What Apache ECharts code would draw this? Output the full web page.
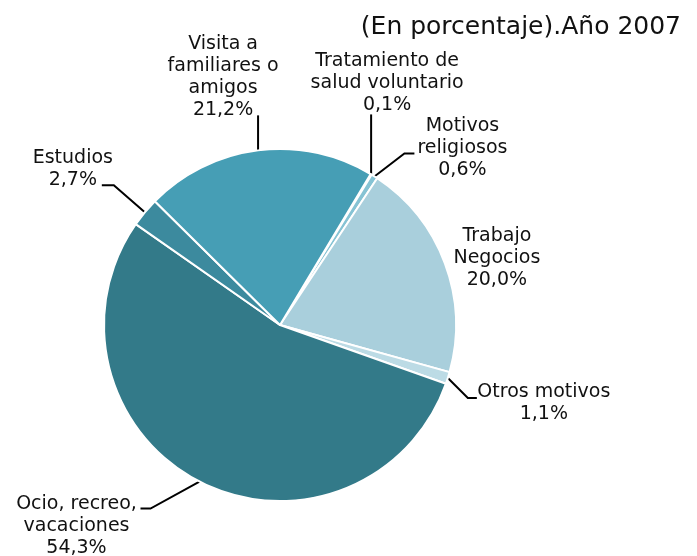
<!DOCTYPE html>
<html>
<head>
<meta charset="UTF-8">
<script src="https://cdn.jsdelivr.net/npm/echarts@6/dist/echarts.min.js"></script>
<style>
    html, body {margin: 0; padding: 0; background: #fff;}
    #chart {width: 697px; height: 556px;}
</style>
</head>
<body>
<div id="chart"></div>
<script type="text/javascript">
    // datos del grafico (orden horario desde "Tratamiento")
    var categorias = ['Tratamiento de\nsalud voluntario', 'Motivos\nreligiosos', 'Trabajo\nNegocios', 'Otros motivos',
        'Ocio, recreo,\nvacaciones', 'Estudios', 'Visita a\nfamiliares o\namigos'];
    var porcentajes = [0.1, 0.6, 20.0, 1.1, 54.3, 2.7, 21.2];
    var titulo = '(En porcentaje).Año 2007';

    var colores = ['#62b2c8', '#86c3d4', '#a9cfdc', '#bcdbe5', '#337a89', '#3c8a9e', '#469eb5'];

    // quiebres de la linea guia y centro del texto, relativos al punto del borde de cada porcion
    var guias = [
        {linea: [[0, -60]], texto: [16, -91]},
        {linea: [[30, -23], [40, -23]], texto: [88, -28]},
        {linea: [], texto: [52, -5]},
        {linea: [[20, 20], [29, 20]], texto: [96, 25]},
        {linea: [[-49, 27], [-59, 27]], texto: [-123, 45]},
        {linea: [[-31, -27], [-43, -27]], texto: [-72, -43]},
        {linea: [[0, -35]], texto: [-35, -73]}
    ];

    var fmtPct = function (v) {
        return v.toFixed(1).replace('.', ',') + '%';
    };

    var myChart = echarts.init(document.getElementById('chart'));

    var datos = categorias.map(function (c, i) {
        return {name: c, value: porcentajes[i], itemStyle: {color: colores[i]}};
    });

    var option = {
        animation: false,
        title: {
            text: titulo,
            right: 11,
            top: 10,
            textStyle: {
                fontFamily: 'DejaVu Sans',
                fontSize: 25,
                fontWeight: 'normal',
                color: '#111'
            }
        },
        series: [
            {
                type: 'pie',
                center: [280, 325],
                radius: 176,
                startAngle: 59,
                clockwise: true,
                avoidLabelOverlap: false,
                data: datos,
                itemStyle: {
                    borderColor: '#fff',
                    borderWidth: 2
                },
                label: {
                    show: true,
                    position: 'outside',
                    alignTo: 'none',
                    fontFamily: 'DejaVu Sans',
                    fontSize: 19,
                    lineHeight: 22,
                    color: '#111',
                    formatter: function (p) {
                        return p.name + '\n' + fmtPct(p.value);
                    }
                },
                labelLine: {
                    show: true,
                    smooth: false,
                    lineStyle: {color: '#000', width: 2}
                },
                labelLayout: function (params) {
                    var g = guias[params.dataIndex];
                    if (!params.labelLinePoints) {
                        return {};
                    }
                    var p0 = params.labelLinePoints[0];
                    var pts = [p0.slice()];
                    g.linea.forEach(function (d) {
                        pts.push([p0[0] + d[0], p0[1] + d[1]]);
                    });
                    if (pts.length < 2) {
                        pts.push(p0.slice());
                    }
                    return {
                        x: p0[0] + g.texto[0],
                        y: p0[1] + g.texto[1],
                        align: 'center',
                        verticalAlign: 'middle',
                        labelLinePoints: pts
                    };
                }
            }
        ]
    };

    myChart.setOption(option);
</script>
</body>
</html>
